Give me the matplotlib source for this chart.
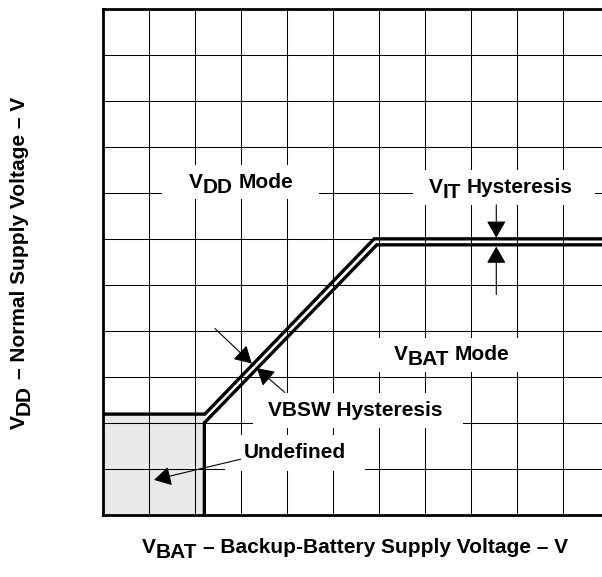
import matplotlib
matplotlib.use('Agg')
import matplotlib.pyplot as plt
from matplotlib import transforms
from matplotlib.patches import Rectangle

# ---------------- data (grid units) ----------------
grid_x = list(range(12))
grid_y = list(range(12))
upper_x = [0, 2.22, 5.90, 11]      # VDD -> VBAT switch threshold
upper_y = [2.20, 2.20, 6.01, 6.01]
lower_x = [2.21, 2.21, 5.96, 11]   # VBAT -> VDD switch threshold
lower_y = [0, 2.01, 5.88, 5.88]
undef_x = [0, 2.21]
undef_y_top = 2.20

labels = {
    "vdd":   [("V", 0), ("DD", 1), (" Mode", 0)],
    "vit":   [("V", 0), ("IT", 1), (" Hysteresis", 0)],
    "vbat":  [("V", 0), ("BAT", 1), (" Mode", 0)],
    "vbsw":  [("VBSW Hysteresis", 0)],
    "undef": [("Undefined", 0)],
}
xlabel_parts = [("V", 0), ("BAT", 1), (" \u2013 Backup-Battery Supply Voltage \u2013 V", 0)]
ylabel_parts = [("V", 0), ("DD", 1), (" \u2013 Normal Supply Voltage \u2013 V", 0)]

FONT = 'Liberation Sans'
FS = 15

fig = plt.figure(figsize=(6.02, 5.77), dpi=100)
W, H = 602, 577
ax = fig.add_axes([102.7 / W, (H - 515.3) / H, 506 / W, 506 / H])
ax.set_xlim(0, 11)
ax.set_ylim(0, 11)
ax.set_xticks(grid_x)
ax.set_yticks(grid_y)
ax.tick_params(length=0, labelbottom=False, labelleft=False)
ax.grid(True, color='black', lw=0.75)
ax.set_axisbelow(True)
for s in ['left', 'bottom', 'top']:
    ax.spines[s].set_linewidth(2.0)
ax.spines['right'].set_visible(False)

# undefined region
ax.fill_between(undef_x, 0, undef_y_top, color='#e9e9e9', lw=0, zorder=0.3)

# white label backgrounds (interrupt the grid)
boxes = [(1.28, 6.88, 3.42, 0.74), (6.75, 6.75, 3.95, 0.75),
         (5.38, 3.12, 4.12, 0.73), (3.27, 1.90, 4.56, 0.75),
         (2.66, 0.96, 3.04, 0.79)]
for (x0, y0, w, h) in boxes:
    ax.add_patch(Rectangle((x0, y0), w, h, facecolor='white', edgecolor='none', zorder=1))

ax.plot(upper_x, upper_y, color='black', lw=2.4, solid_joinstyle='miter', zorder=3)
ax.plot(lower_x, lower_y, color='black', lw=2.4, solid_joinstyle='miter', zorder=3)

renderer = fig.canvas.get_renderer()


def adv(s):
    t1 = fig.text(0, 0, '|' + s + '|', fontsize=FS, fontweight='bold', family=FONT)
    t2 = fig.text(0, 0, '||', fontsize=FS, fontweight='bold', family=FONT)
    w = t1.get_window_extent(renderer).width - t2.get_window_extent(renderer).width
    t1.remove(); t2.remove()
    return w


def rich(parts, x, y, trans, rot=0, drop=5.0, zorder=5):
    advs = [adv(s) for s, _ in parts]
    off = -sum(advs) / 2
    for (s, sub), a in zip(parts, advs):
        lead = len(s) - len(s.lstrip())
        ls = adv(' ' * lead) if lead else 0
        d = drop if sub else 0
        if rot == 0:
            dx, dy = off + ls, -d
        else:
            dx, dy = d, off + ls
        tr = transforms.offset_copy(trans, fig=fig, x=dx, y=dy, units='dots')
        fig.text(x, y, s.lstrip(), transform=tr, rotation=rot, rotation_mode='anchor',
                 ha='left', va='baseline', fontsize=FS, fontweight='bold', family=FONT,
                 zorder=zorder)
        off += a


rich(labels["vdd"], 3.00, 7.11, ax.transData)
rich(labels["vit"], 8.65, 7.00, ax.transData)
rich(labels["vbat"], 7.59, 3.38, ax.transData)
rich(labels["vbsw"], 5.50, 2.16, ax.transData)
rich(labels["undef"], 4.18, 1.24, ax.transData)

rich(xlabel_parts, 355 / W, (H - 553) / H, fig.transFigure)
rich(ylabel_parts, 25 / W, (H - 263) / H, fig.transFigure, rot=90)

# arrows
ap = dict(arrowstyle='-|>,head_length=0.4,head_width=0.23', color='black', lw=0.8,
          mutation_scale=26, shrinkA=0, shrinkB=0)
arrows = [((8.556, 6.75), (8.556, 6.035)),
          ((8.556, 4.80), (8.556, 5.84)),
          ((2.44, 4.06), (3.24, 3.30)),
          ((3.96, 2.67), (3.35, 3.20)),
          ((3.00, 1.22), (1.117, 0.77))]
for tail, tip in arrows:
    ax.annotate('', xy=tip, xytext=tail, arrowprops=ap, zorder=4)

fig.savefig('out.png', dpi=100)
